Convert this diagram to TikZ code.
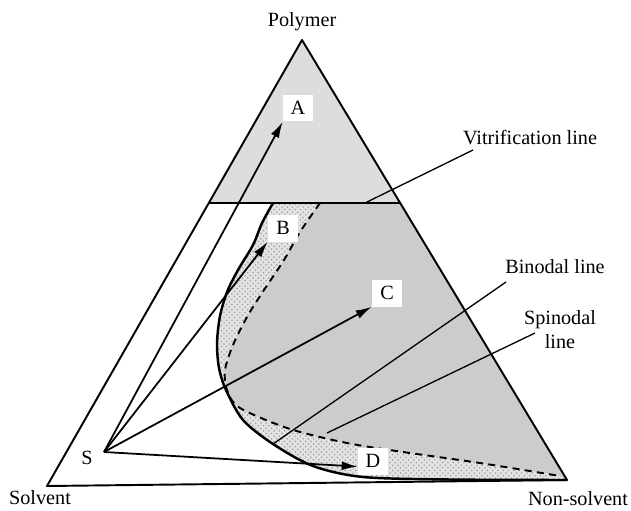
\documentclass[tikz,border=0pt]{standalone}
\usepackage{fontspec}
\setmainfont{Liberation Serif}
\usetikzlibrary{arrows.meta,patterns,positioning}

\begin{document}
\begin{tikzpicture}[x=0.02cm,y=-0.02cm,
    font=\fontsize{11.5}{13.6}\selectfont,
    side/.style={line width=1.1pt, line join=round},
    route/.style={line width=1pt, -{Latex[length=3.2mm,width=1.8mm]}},
    lbox/.style={fill=white, minimum width=0.6cm, minimum height=0.54cm, inner sep=0pt},
    pointer/.style={line width=0.75pt}]
    \useasboundingbox (0,0) rectangle (631,510);

    % Corners of the triangle
    \coordinate (P) at (302,40);
    \coordinate (Sv) at (47,486);
    \coordinate (N) at (567,480);
    \coordinate (VL) at (208.8,203);
    \coordinate (VR) at (400,203);

    % Glassy region (above vitrification)
    \fill[gray!27] (P) -- (VL) -- (VR) -- cycle;

    % Metastable region (binodal to spinodal)
    \fill[gray!22, postaction={pattern=crosshatch dots, pattern color=gray!75}]
        plot[smooth] coordinates {(273,203) (262,223) (253,245) (238,270) (227,292)
        (220,316) (217,343) (219,368) (226,390) (243,420) (273,444) (313,466)
        (363,477) (450,479.5) (567,480)} -- (VR) -- cycle;

    % Unstable region (inside spinodal)
    \fill[gray!40]
        plot[smooth] coordinates {(320,203) (300,232) (284,260) (262,293) (247,317)
        (233,345) (225,370) (227,390) (240,408) (290,429) (347,443) (403,452)
        (480,463) (560,476)} -- (N) -- (VR) -- cycle;

    % Triangle and vitrification line
    \draw[side] (P) -- (Sv) -- (N) -- cycle;
    \draw[side] (VL) -- (VR);

    % Binodal
    \draw[line width=1.4pt] plot[smooth] coordinates {(273,203) (262,223) (253,245)
        (238,270) (227,292) (220,316) (217,343) (219,368) (226,390) (243,420)
        (273,444) (313,466) (363,477) (450,479.5) (567,480)};

    % Spinodal
    \draw[line width=1.1pt, dash pattern=on 4pt off 3pt] plot[smooth] coordinates {(320,203)
        (300,232) (284,260) (262,293) (247,317) (233,345) (225,370) (227,390)
        (240,408) (290,429) (347,443) (403,452) (480,463) (560,476)};

    % Starting point and paths
    \coordinate (S) at (104,452);
    \node (Slabel) at (87,458) {S};
    \node[lbox] (A) at (298,108) {A};
    \node[lbox] (B) at (283,228) {B};
    \node[lbox] (C) at (387,293) {C};
    \node[lbox] (D) at (373,461) {D};
    \draw[route] (S) -- (A.south west);
    \draw[route] (S) -- (B.south west);
    \draw[route] (S) -- (C.south west);
    \draw[route] (S) -- (D.200);

    % Corner labels
    \node (polymer) at (302,22) {Polymer};
    \node (solvent) at (40,498) {Solvent};
    \node (nonsolvent) at (578,499) {Non-solvent};

    % Line labels
    \node (vit) at (530,138) {Vitrification line};
    \node (bin) at (555,267) {Binodal line};
    \node[align=center] (spin) at (560,330) {Spinodal\\line};
    \coordinate (vitpt) at (365,203);
    \coordinate (vitend) at (473,150);
    \coordinate (binpt) at (273,444);
    \coordinate (binend) at (506,282);
    \coordinate (spinpt) at (327,433);
    \coordinate (spinend) at (535,333);
    \draw[pointer] (vitpt) -- (vitend);
    \draw[pointer] (binpt) -- (binend);
    \draw[pointer] (spinpt) -- (spinend);
\end{tikzpicture}
\end{document}
